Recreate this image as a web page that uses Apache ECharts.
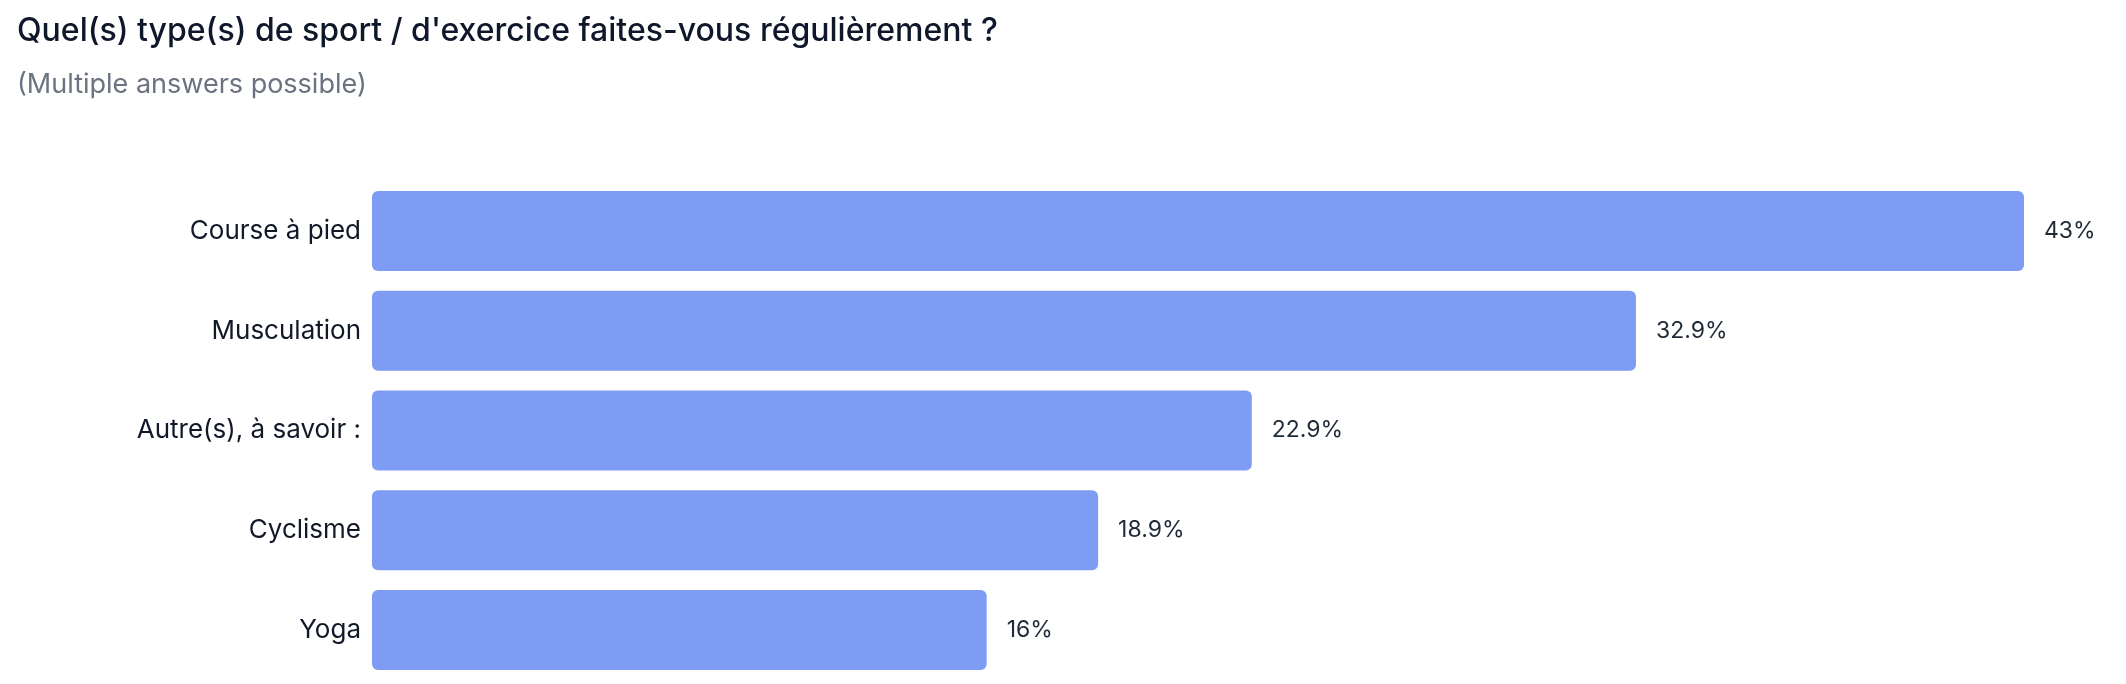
<!DOCTYPE html>
<html>
<head>
<meta charset="utf-8">
<script src="https://cdn.jsdelivr.net/npm/echarts@6/dist/echarts.min.js"></script>
<style>
  html, body { margin: 0; padding: 0; background: #fff; }
  #chart { width: 2126px; height: 684px; }
</style>
</head>
<body>
<div id="chart"></div>
<script>
// categories, top to bottom
var categories = ['Course à pied', 'Musculation', 'Autre(s), à savoir :', 'Cyclisme', 'Yoga'];
// share of respondents (%)
var values = [43, 32.9, 22.9, 18.9, 16];

var myChart = echarts.init(document.getElementById('chart'));
var option = {
    backgroundColor: '#fff',
    animation: false,
    title: {
        text: "Quel(s) type(s) de sport / d'exercice faites-vous régulièrement ?",
        subtext: '(Multiple answers possible)',
        left: 12,
        top: 10,
        itemGap: 24,
        textStyle: {
            fontFamily: 'Inter',
            fontSize: 32,
            lineHeight: 32,
            fontWeight: 500,
            color: '#0f172a'
        },
        subtextStyle: {
            fontFamily: 'Inter',
            fontSize: 27,
            lineHeight: 27,
            color: '#6b7280'
        }
    },
    grid: {
        left: 372,
        right: 102,
        top: 181,
        bottom: 4
    },
    xAxis: {
        type: 'value',
        min: 0,
        max: 43,
        show: false
    },
    yAxis: {
        type: 'category',
        inverse: true,
        data: categories,
        axisLine: { show: false },
        axisTick: { show: false },
        axisLabel: {
            margin: 11,
            fontFamily: 'Inter',
            fontSize: 26,
            color: '#111827'
        }
    },
    series: [
        {
            type: 'bar',
            data: values,
            barWidth: 80,
            itemStyle: {
                color: '#7f9cf5',
                borderRadius: 6
            },
            label: {
                show: true,
                position: 'right',
                distance: 20,
                fontFamily: 'Inter',
                fontSize: 23,
                color: '#1f2937',
                formatter: function (p) { return p.value + '%'; }
            }
        }
    ]
};
myChart.setOption(option);
</script>
</body>
</html>
